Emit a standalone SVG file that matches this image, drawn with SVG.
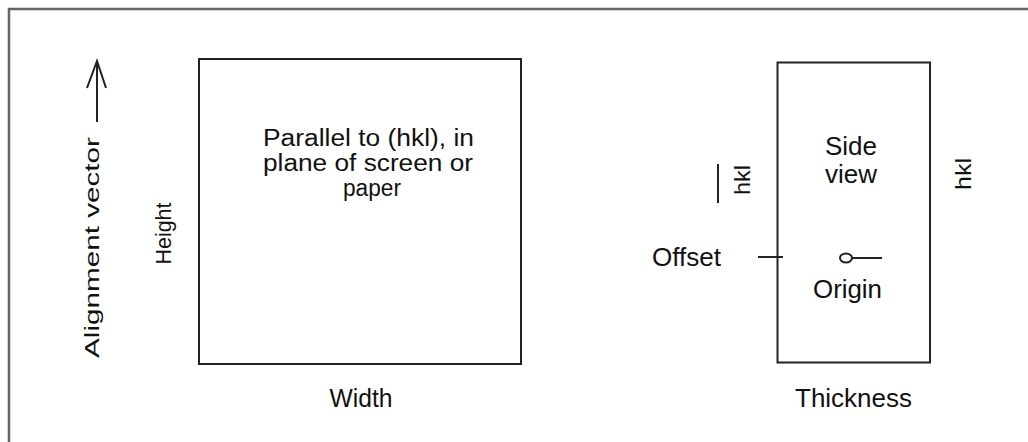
<svg xmlns="http://www.w3.org/2000/svg" width="1028" height="442" viewBox="0 0 1028 442">
<style>
.t{font-family:"Liberation Sans",Arial,sans-serif;fill:#111;}
.h{font-size:22px;}
.r{font-size:21px;}
.ln{stroke:#222;stroke-width:2;fill:none;}
</style>
<rect width="1028" height="442" fill="#fff"/>
<path d="M9 442V9H1028" fill="none" stroke="#666" stroke-width="2.5"/>
<g id="alignment">
<path class="ln" d="M97 122V61" stroke-width="1.6"/>
<path class="ln" d="M87 88L97 61L106 88" stroke-width="1.6"/>
<text class="t r" text-anchor="middle" transform="translate(99,247.5) rotate(-90)" textLength="221" lengthAdjust="spacingAndGlyphs">Alignment  vector</text>
</g>
<g id="front">
<rect class="ln" x="199" y="59" width="322" height="305"/>
<text class="t" font-size="22" text-anchor="middle" transform="translate(171,233.5) rotate(-90)" textLength="62" lengthAdjust="spacingAndGlyphs">Height</text>
<text class="t h" text-anchor="middle" transform="translate(368.5,146) scale(1,1.12)" textLength="211" lengthAdjust="spacingAndGlyphs">Parallel to (hkl), in</text>
<text class="t h" text-anchor="middle" transform="translate(368,171) scale(1,1.12)" textLength="210" lengthAdjust="spacingAndGlyphs">plane of screen or</text>
<text class="t h" text-anchor="middle" transform="translate(372,196) scale(1,1.12)" textLength="58" lengthAdjust="spacingAndGlyphs">paper</text>
<text class="t h" text-anchor="middle" transform="translate(361,407) scale(1,1.15)" textLength="63" lengthAdjust="spacingAndGlyphs">Width</text>
</g>
<g id="side">
<rect class="ln" x="777.5" y="62.5" width="152.5" height="300"/>
<text class="t h" text-anchor="middle" transform="translate(851,155) scale(1,1.15)" textLength="52" lengthAdjust="spacingAndGlyphs">Side</text>
<text class="t h" text-anchor="middle" transform="translate(851,183) scale(1,1.15)" textLength="52" lengthAdjust="spacingAndGlyphs">view</text>
<ellipse class="ln" cx="846" cy="258" rx="6" ry="4.5" stroke-width="1.5"/>
<path class="ln" d="M852 258H882" stroke-width="1.8"/>
<text class="t h" text-anchor="middle" transform="translate(847.5,298) scale(1,1.15)" textLength="69" lengthAdjust="spacingAndGlyphs">Origin</text>
<text class="t h" text-anchor="middle" transform="translate(853.5,407) scale(1,1.15)" textLength="117" lengthAdjust="spacingAndGlyphs">Thickness</text>
<text class="t h" text-anchor="middle" transform="translate(971,174) rotate(-90)" textLength="32" lengthAdjust="spacingAndGlyphs">hkl</text>
</g>
<g id="offset">
<path class="ln" d="M758 257H783"/>
<text class="t h" text-anchor="middle" transform="translate(686.5,266) scale(1,1.15)" textLength="69" lengthAdjust="spacingAndGlyphs">Offset</text>
</g>
<g id="neg-hkl">
<path class="ln" d="M718 164V203"/>
<text class="t h" text-anchor="middle" transform="translate(750,180) rotate(-90)" textLength="30" lengthAdjust="spacingAndGlyphs">hkl</text>
</g>
</svg>
